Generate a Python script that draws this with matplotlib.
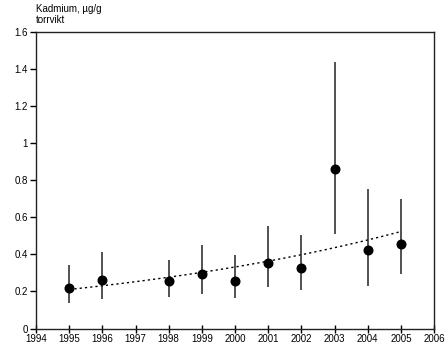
import numpy as np
import matplotlib
matplotlib.use("Agg")
import matplotlib.pyplot as plt

plt.rcParams['font.family'] = ['Liberation Sans', 'DejaVu Sans']

years = [1995, 1996, 1998, 1999, 2000, 2001, 2002, 2003, 2004, 2005]
values = [0.219, 0.260, 0.255, 0.292, 0.259, 0.355, 0.328, 0.863, 0.422, 0.458]
upper = [0.342, 0.414, 0.369, 0.449, 0.395, 0.551, 0.506, 1.440, 0.751, 0.697]
lower = [0.136, 0.158, 0.172, 0.187, 0.164, 0.222, 0.209, 0.512, 0.231, 0.295]
xticks = list(range(1994, 2007))
yticks = [0, 0.2, 0.4, 0.6, 0.8, 1.0, 1.2, 1.4, 1.6]
ytick_labels = ["0", "0.2", "0.4", "0.6", "0.8", "1", "1.2", "1.4", "1.6"]
title_text = "Kadmium, µg/g\ntorrvikt"

fig = plt.figure(figsize=(4.45, 3.55), dpi=100)
ax = fig.add_axes([0.0809, 0.0746, 0.8944, 0.8353])

x = np.array(years, dtype=float)
y = np.array(values)
yerr = np.array([y - np.array(lower), np.array(upper) - y])

# exponential trend fitted to data
b, a = np.polyfit(x, np.log(y), 1)
xt = np.linspace(x.min(), x.max(), 200)
ax.plot(xt, np.exp(a + b * xt), color='black', lw=1.0, linestyle=(0, (1.6, 2.2)), zorder=2)

ax.errorbar(x, y, yerr=yerr, fmt='o', color='black', ecolor='#222222',
            elinewidth=1.1, capsize=0, markersize=6.2, zorder=3)

ax.set_xlim(1994, 2006)
ax.set_ylim(0, 1.6)
ax.set_xticks(xticks)
ax.set_xticklabels([str(v) for v in xticks], fontsize=7)
ax.set_yticks(yticks)
ax.set_yticklabels(ytick_labels, fontsize=7)
ax.tick_params(axis='x', direction='inout', length=6, width=1, pad=1, colors='black')
ax.tick_params(axis='y', direction='out', length=4, width=1, pad=2, colors='black')
for s in ax.spines.values():
    s.set_linewidth(1.0)
    s.set_color('#222222')

fig.text(36 / 445, 1 - 4 / 355, title_text, fontsize=7, ha='left', va='top', linespacing=1.1)

fig.savefig("out.png", dpi=100)
